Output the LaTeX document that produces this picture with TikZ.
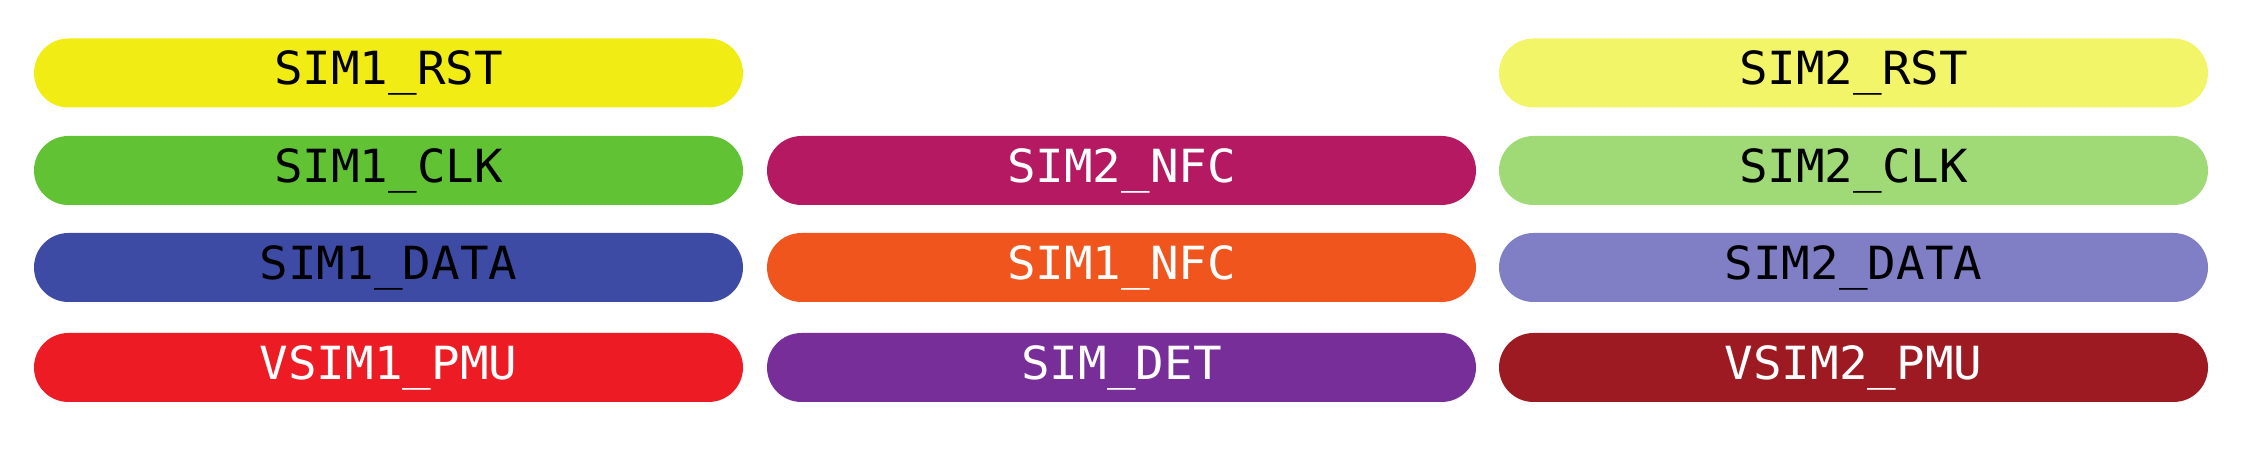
\documentclass[tikz,border=0pt]{standalone}
\usepackage{fontspec}
\usetikzlibrary{shapes.misc}
\newfontfamily\pinfont[FakeStretch=1.04]{DejaVu Sans Mono}
\definecolor{rstone}{RGB}{240,236,20}
\definecolor{clkone}{RGB}{97,194,52}
\definecolor{dataone}{RGB}{61,75,165}
\definecolor{pmuone}{RGB}{237,28,36}
\definecolor{nfctwo}{RGB}{180,25,98}
\definecolor{nfcone}{RGB}{241,85,30}
\definecolor{detsim}{RGB}{120,46,152}
\definecolor{rsttwo}{RGB}{243,245,105}
\definecolor{clktwo}{RGB}{160,218,118}
\definecolor{datatwo}{RGB}{128,126,196}
\definecolor{pmutwo}{RGB}{158,26,34}
\begin{document}
\begin{tikzpicture}
	\tikzset{pill/.style={rounded rectangle,minimum width=7.09cm,minimum height=0.69cm,inner sep=0pt,font=\pinfont\fontsize{13pt}{15pt}\selectfont}}
	\useasboundingbox (0,0) rectangle (22.42,-4.6);
	
	% left column
	\node[pill,fill=rstone,text=black] (rst1) at (3.885,-0.73) {SIM1\_RST};
	\node[pill,fill=clkone,text=black] (clk1) at (3.885,-1.705) {SIM1\_CLK};
	\node[pill,fill=dataone,text=black] (data1) at (3.885,-2.675) {SIM1\_DATA};
	\node[pill,fill=pmuone,text=white] (pmu1) at (3.885,-3.675) {VSIM1\_PMU};
	
	% middle column
	\node[pill,fill=nfctwo,text=white] (nfc2) at (11.215,-1.705) {SIM2\_NFC};
	\node[pill,fill=nfcone,text=white] (nfc1) at (11.215,-2.675) {SIM1\_NFC};
	\node[pill,fill=detsim,text=white] (det) at (11.215,-3.675) {SIM\_DET};
	
	% right column
	\node[pill,fill=rsttwo,text=black] (rst2) at (18.535,-0.73) {SIM2\_RST};
	\node[pill,fill=clktwo,text=black] (clk2) at (18.535,-1.705) {SIM2\_CLK};
	\node[pill,fill=datatwo,text=black] (data2) at (18.535,-2.675) {SIM2\_DATA};
	\node[pill,fill=pmutwo,text=white] (pmu2) at (18.535,-3.675) {VSIM2\_PMU};
	
\end{tikzpicture}
\end{document}
